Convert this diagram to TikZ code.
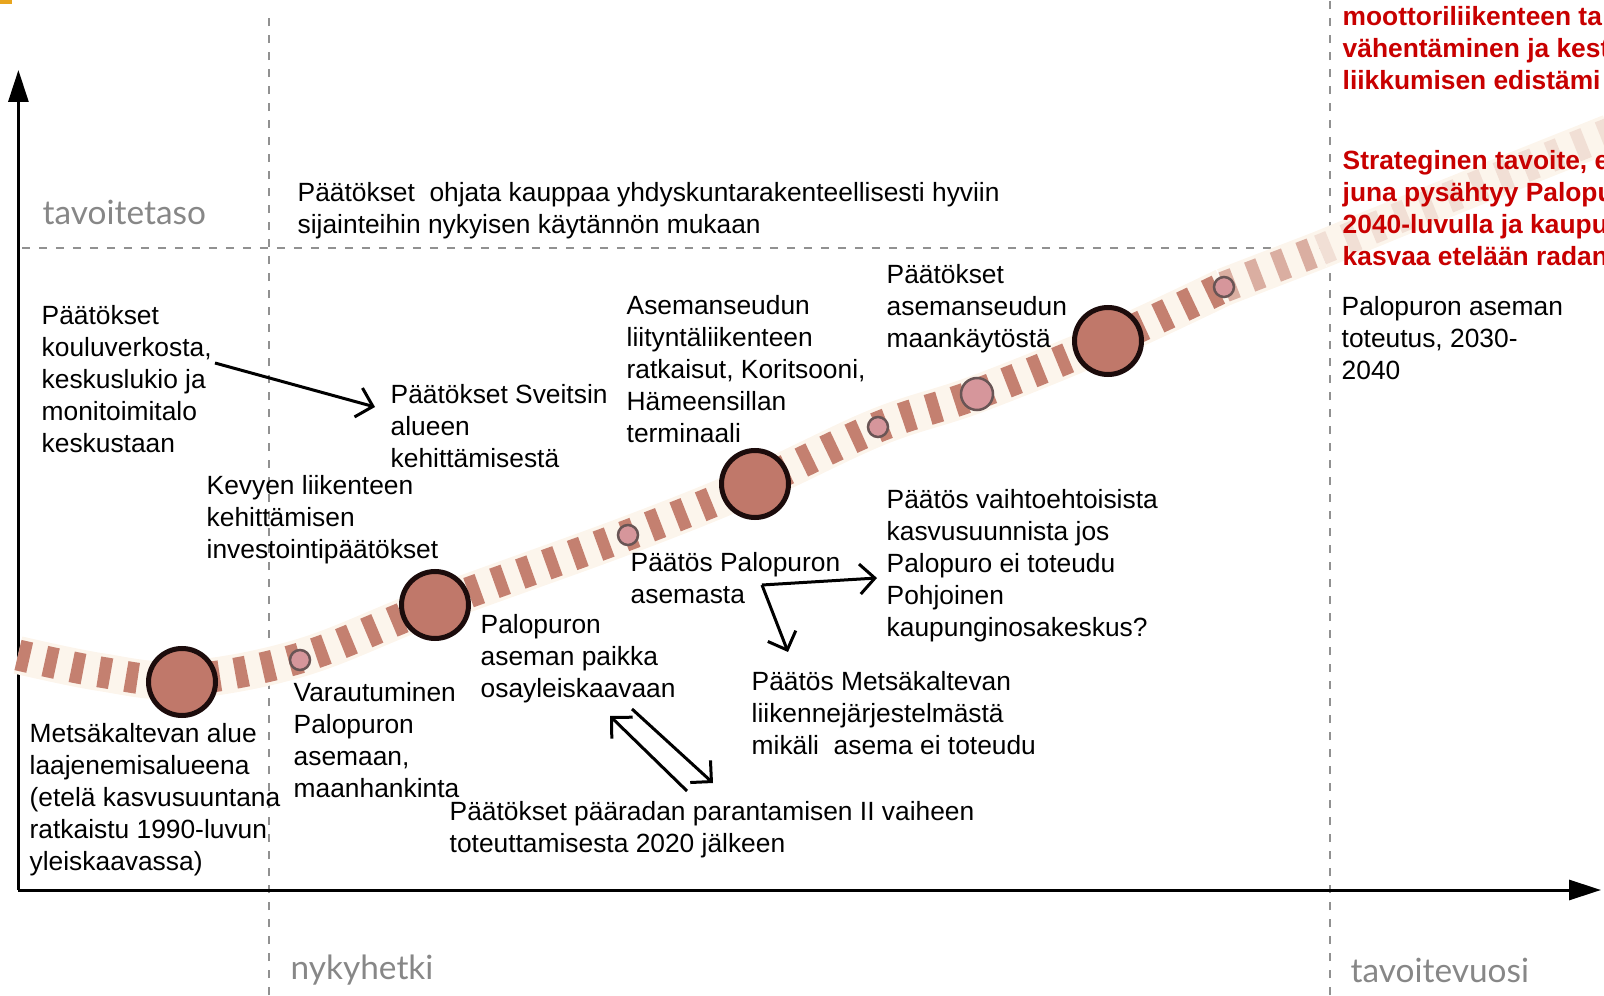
\documentclass[tikz,border=0pt]{standalone}
\usepackage{fontspec}
\setmainfont{Liberation Sans}
\newfontfamily\gillfont{Lato}
\usepackage{tikz}
\usepackage{xcolor}
\usetikzlibrary{arrows.meta}

\definecolor{stopfill}{RGB}{192,120,106}
\definecolor{stopline}{RGB}{28,12,12}
\definecolor{minorfill}{RGB}{214,150,155}
\definecolor{minorline}{RGB}{105,85,85}
\definecolor{dashbrown}{RGB}{196,128,112}
\definecolor{bandcream}{RGB}{252,245,236}
\definecolor{guidegray}{RGB}{145,145,145}
\definecolor{labelgray}{RGB}{135,135,135}
\definecolor{goalred}{RGB}{200,0,0}
\definecolor{cornermark}{RGB}{232,165,30}

\begin{document}
\begin{tikzpicture}[every node/.style={inner sep=0pt},
    txt/.style={anchor=north west, align=left, font=\fontsize{7.5}{9.1}\selectfont},
    redtxt/.style={txt, text=goalred, font=\fontsize{7.5}{9.1}\selectfont\bfseries},
    graylabel/.style={anchor=west, text=labelgray, font=\gillfont\fontsize{9.5}{11}\selectfont},
    bigstop/.style={circle, fill=stopfill, draw=stopline, line width=0.05cm, minimum size=0.67cm},
    minorstop/.style={circle, fill=minorfill, draw=minorline, line width=0.025cm, minimum size=#1},
    minorstop/.default=0.2cm,
    guide/.style={guidegray, line width=0.02cm, dash pattern=on 0.08cm off 0.09cm},
    axis/.style={line width=0.03cm, -{Triangle[length=0.32cm, width=0.2cm]}},
    barb/.style={line width=0.03cm, -{Straight Barb[length=0.15cm, width=0.3cm]}},
    route/.style={dashbrown, line width=0.31cm, dash pattern=on 0.12cm off 0.155cm,
        preaction={draw, bandcream, line width=0.38cm, solid}}]

    \useasboundingbox (0,0) rectangle (16.04,9.95);
    \fill[cornermark] (0,9.91) rectangle (0.12,9.95);


    %===========================
    % Guides and axes
    %===========================

    \draw[guide] (2.69,0) -- (2.69,9.85);
    \draw[guide] (13.30,0) -- (13.30,9.95);
    \draw[guide] (0.22,7.47) -- (13.25,7.47);

    \coordinate (O) at (0.184,1.05);
    \coordinate (ytop) at (0.184,9.25);
    \coordinate (xend) at (16.01,1.05);
    \draw[axis] (O) -- (ytop);
    \draw[axis] (O) -- (xend);

    \node (level) at (0.42,7.83) [graylabel] {tavoitetaso};
    \node (now) at (2.90,0.25) [graylabel] {nykyhetki};
    \node (goalyear) at (13.50,0.25) [graylabel] {tavoitevuosi};


    %===========================
    % Route
    %===========================

    \draw[route] plot[smooth, tension=0.6] coordinates {(0.18,3.40) (1.00,3.23) (1.82,3.15)
        (3.00,3.37) (4.35,3.90) (6.28,4.60) (7.55,5.11) (8.78,5.68) (9.77,6.01)
        (11.08,6.54) (12.24,7.08)};
    \draw[route, opacity=0.6] plot[smooth, tension=0.6] coordinates {(12.24,7.08) (13.20,7.45)};
    \draw[route, opacity=0.18] plot[smooth, tension=0.6] coordinates {(13.20,7.45) (14.50,7.98) (16.10,8.62)};

    % Stops
    \draw node (stop1) at (1.82,3.13) [bigstop]{};
    \draw node (stop2) at (4.35,3.90) [bigstop]{};
    \draw node (stop3) at (7.55,5.11) [bigstop]{};
    \draw node (stop4) at (11.08,6.54) [bigstop]{};

    \draw node (minor1) at (3.00,3.35) [minorstop]{};
    \draw node (minor2) at (6.28,4.60) [minorstop]{};
    \draw node (minor3) at (8.78,5.68) [minorstop]{};
    \draw node (minor4) at (9.77,6.01) [minorstop=0.32cm]{};
    \draw node (minor5) at (12.24,7.08) [minorstop]{};


    %===========================
    % Decisions
    %===========================

    \node (trade) at (2.97,8.13) [txt] {Päätökset\ \ ohjata kauppaa yhdyskuntarakenteellisesti hyviin\\sijainteihin nykyisen käytännön mukaan};
    \node (school) at (0.41,6.90) [txt] {Päätökset\\kouluverkosta,\\keskuslukio ja\\monitoimitalo\\keskustaan};
    \node (sveitsi) at (3.90,6.11) [txt] {Päätökset Sveitsin\\alueen\\kehittämisestä};
    \node (feeder) at (6.26,7.00) [txt] {Asemanseudun\\liityntäliikenteen\\ratkaisut, Koritsooni,\\Hämeensillan\\terminaali};
    \node (landuse) at (8.86,7.31) [txt] {Päätökset\\asemanseudun\\maankäytöstä};
    \node (build) at (13.41,6.99) [txt] {Palopuron aseman\\toteutus, 2030-\\2040};
    \node (cycling) at (2.06,5.20) [txt] {Kevyen liikenteen\\kehittämisen\\investointipäätökset};
    \node (altgrowth) at (8.86,5.06) [txt] {Päätös vaihtoehtoisista\\kasvusuunnista jos\\Palopuro ei toteudu\\Pohjoinen\\kaupunginosakeskus?};
    \node (station) at (6.30,4.43) [txt] {Päätös Palopuron\\asemasta};
    \node (site) at (4.80,3.81) [txt] {Palopuron\\aseman paikka\\osayleiskaavaan};
    \node (traffic) at (7.51,3.24) [txt] {Päätös Metsäkaltevan\\liikennejärjestelmästä\\mikäli\ \ asema ei toteudu};
    \node (prepare) at (2.93,3.13) [txt] {Varautuminen\\Palopuron\\asemaan,\\maanhankinta};
    \node (metsa) at (0.29,2.72) [txt] {Metsäkaltevan alue\\laajenemisalueena\\(etelä kasvusuuntana\\ratkaistu 1990-luvun\\yleiskaavassa)};
    \node (mainline) at (4.49,1.94) [txt] {Päätökset pääradan parantamisen II vaiheen\\toteuttamisesta 2020 jälkeen};

    % Goals (cut at the right edge as in the slide)
    \node (goal1) at (13.42,9.89) [redtxt] {moottoriliikenteen ta\\vähentäminen ja kest\\liikkumisen edistämi};
    \node (goal2) at (13.42,8.45) [redtxt] {Strateginen tavoite, e\\juna pysähtyy Palopu\\2040-luvulla ja kaupu\\kasvaa etelään radan};


    %===========================
    % Arrows
    %===========================

    \coordinate (school-out) at (2.15,6.32);
    \coordinate (sveitsi-in) at (3.75,5.88);
    \draw[barb] (school-out) to (sveitsi-in);

    \coordinate (fork) at (7.62,4.10);
    \coordinate (altgrowth-in) at (8.77,4.17);
    \coordinate (traffic-in) at (7.88,3.43);
    \draw[barb] (fork) to (altgrowth-in);
    \draw[barb] (fork) to (traffic-in);

    \coordinate (mainline-out) at (6.87,2.04);
    \coordinate (site-in) at (6.10,2.79);
    \coordinate (site-out) at (6.32,2.86);
    \coordinate (mainline-in) at (7.13,2.12);
    \draw[barb] (mainline-out) to (site-in);
    \draw[barb] (site-out) to (mainline-in);

\end{tikzpicture}
\end{document}
